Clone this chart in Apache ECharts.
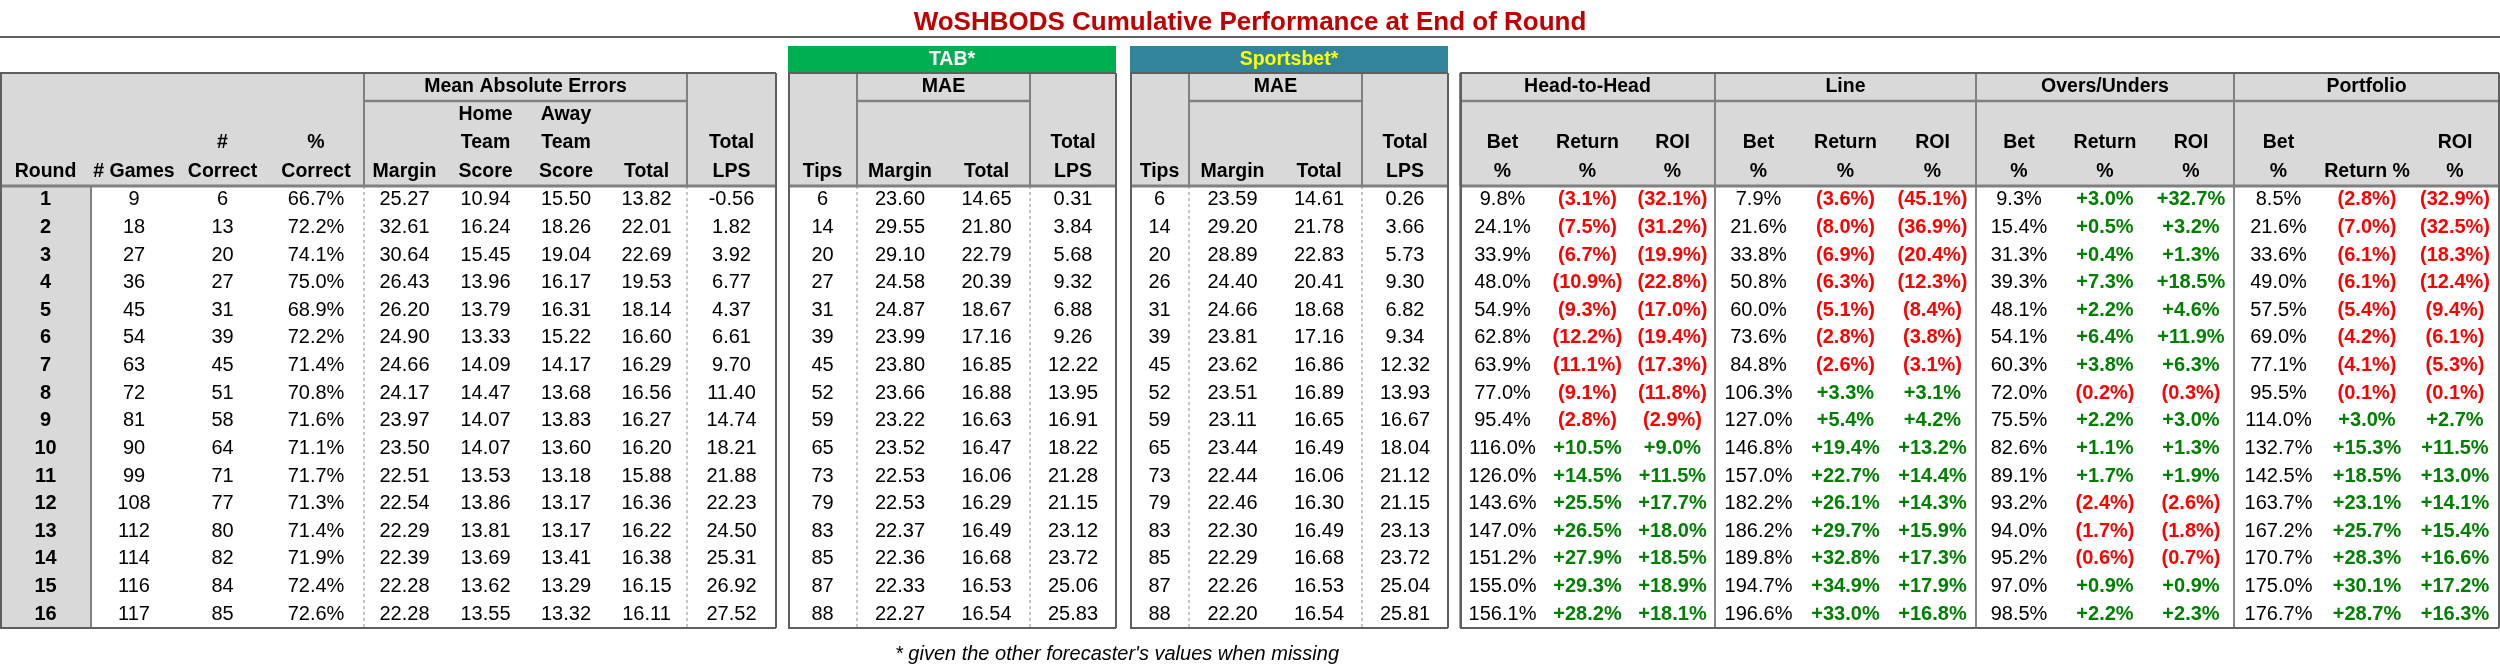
<!DOCTYPE html>
<html lang="en">
<head>
<meta charset="UTF-8">
<title>WoSHBODS Cumulative Performance</title>
<script src="https://cdn.jsdelivr.net/npm/echarts@6.0.0/dist/echarts.min.js"></script>
<style>
  html, body { margin: 0; padding: 0; background: #fff; }
</style>
</head>
<body>
<div id="main" style="width:2500px;height:664px;"></div>
<script>
const rounds     = [1, 2, 3, 4, 5, 6, 7, 8, 9, 10, 11, 12, 13, 14, 15, 16];
const games      = [9, 18, 27, 36, 45, 54, 63, 72, 81, 90, 99, 108, 112, 114, 116, 117];
const correct    = [6, 13, 20, 27, 31, 39, 45, 51, 58, 64, 71, 77, 80, 82, 84, 85];
const pctCorrect = [66.7, 72.2, 74.1, 75.0, 68.9, 72.2, 71.4, 70.8, 71.6, 71.1, 71.7, 71.3, 71.4, 71.9, 72.4, 72.6];
const maeMargin  = [25.27, 32.61, 30.64, 26.43, 26.20, 24.90, 24.66, 24.17, 23.97, 23.50, 22.51, 22.54, 22.29, 22.39, 22.28, 22.28];
const maeHome    = [10.94, 16.24, 15.45, 13.96, 13.79, 13.33, 14.09, 14.47, 14.07, 14.07, 13.53, 13.86, 13.81, 13.69, 13.62, 13.55];
const maeAway    = [15.50, 18.26, 19.04, 16.17, 16.31, 15.22, 14.17, 13.68, 13.83, 13.60, 13.18, 13.17, 13.17, 13.41, 13.29, 13.32];
const maeTotal   = [13.82, 22.01, 22.69, 19.53, 18.14, 16.60, 16.29, 16.56, 16.27, 16.20, 15.88, 16.36, 16.22, 16.38, 16.15, 16.11];
const totalLps   = [-0.56, 1.82, 3.92, 6.77, 4.37, 6.61, 9.70, 11.40, 14.74, 18.21, 21.88, 22.23, 24.50, 25.31, 26.92, 27.52];

const tabTips    = [6, 14, 20, 27, 31, 39, 45, 52, 59, 65, 73, 79, 83, 85, 87, 88];
const tabMargin  = [23.60, 29.55, 29.10, 24.58, 24.87, 23.99, 23.80, 23.66, 23.22, 23.52, 22.53, 22.53, 22.37, 22.36, 22.33, 22.27];
const tabTotal   = [14.65, 21.80, 22.79, 20.39, 18.67, 17.16, 16.85, 16.88, 16.63, 16.47, 16.06, 16.29, 16.49, 16.68, 16.53, 16.54];
const tabLps     = [0.31, 3.84, 5.68, 9.32, 6.88, 9.26, 12.22, 13.95, 16.91, 18.22, 21.28, 21.15, 23.12, 23.72, 25.06, 25.83];

const sbTips     = [6, 14, 20, 26, 31, 39, 45, 52, 59, 65, 73, 79, 83, 85, 87, 88];
const sbMargin   = [23.59, 29.20, 28.89, 24.40, 24.66, 23.81, 23.62, 23.51, 23.11, 23.44, 22.44, 22.46, 22.30, 22.29, 22.26, 22.20];
const sbTotal    = [14.61, 21.78, 22.83, 20.41, 18.68, 17.16, 16.86, 16.89, 16.65, 16.49, 16.06, 16.30, 16.49, 16.68, 16.53, 16.54];
const sbLps      = [0.26, 3.66, 5.73, 9.30, 6.82, 9.34, 12.32, 13.93, 16.67, 18.04, 21.12, 21.15, 23.13, 23.72, 25.04, 25.81];

const h2hBet     = [9.8, 24.1, 33.9, 48.0, 54.9, 62.8, 63.9, 77.0, 95.4, 116.0, 126.0, 143.6, 147.0, 151.2, 155.0, 156.1];
const h2hReturn  = [-3.1, -7.5, -6.7, -10.9, -9.3, -12.2, -11.1, -9.1, -2.8, 10.5, 14.5, 25.5, 26.5, 27.9, 29.3, 28.2];
const h2hRoi     = [-32.1, -31.2, -19.9, -22.8, -17.0, -19.4, -17.3, -11.8, -2.9, 9.0, 11.5, 17.7, 18.0, 18.5, 18.9, 18.1];
const lineBet    = [7.9, 21.6, 33.8, 50.8, 60.0, 73.6, 84.8, 106.3, 127.0, 146.8, 157.0, 182.2, 186.2, 189.8, 194.7, 196.6];
const lineReturn = [-3.6, -8.0, -6.9, -6.3, -5.1, -2.8, -2.6, 3.3, 5.4, 19.4, 22.7, 26.1, 29.7, 32.8, 34.9, 33.0];
const lineRoi    = [-45.1, -36.9, -20.4, -12.3, -8.4, -3.8, -3.1, 3.1, 4.2, 13.2, 14.4, 14.3, 15.9, 17.3, 17.9, 16.8];
const ouBet      = [9.3, 15.4, 31.3, 39.3, 48.1, 54.1, 60.3, 72.0, 75.5, 82.6, 89.1, 93.2, 94.0, 95.2, 97.0, 98.5];
const ouReturn   = [3.0, 0.5, 0.4, 7.3, 2.2, 6.4, 3.8, -0.2, 2.2, 1.1, 1.7, -2.4, -1.7, -0.6, 0.9, 2.2];
const ouRoi      = [32.7, 3.2, 1.3, 18.5, 4.6, 11.9, 6.3, -0.3, 3.0, 1.3, 1.9, -2.6, -1.8, -0.7, 0.9, 2.3];
const portBet    = [8.5, 21.6, 33.6, 49.0, 57.5, 69.0, 77.1, 95.5, 114.0, 132.7, 142.5, 163.7, 167.2, 170.7, 175.0, 176.7];
const portReturn = [-2.8, -7.0, -6.1, -6.1, -5.4, -4.2, -4.1, -0.1, 3.0, 15.3, 18.5, 23.1, 25.7, 28.3, 30.1, 28.7];
const portRoi    = [-32.9, -32.5, -18.3, -12.4, -9.4, -6.1, -5.3, -0.1, 2.7, 11.5, 13.0, 14.1, 15.4, 16.6, 17.2, 16.3];

// column headers (stacked lines, bottom aligned) and the series each column shows
const colHeads = [
  ['Round'], ['# Games'], ['#', 'Correct'], ['%', 'Correct'],
  ['Margin'], ['Home', 'Team', 'Score'], ['Away', 'Team', 'Score'], ['Total'], ['Total', 'LPS'],
  ['Tips'], ['Margin'], ['Total'], ['Total', 'LPS'],
  ['Tips'], ['Margin'], ['Total'], ['Total', 'LPS'],
  ['Bet', '%'], ['Return', '%'], ['ROI', '%'],
  ['Bet', '%'], ['Return', '%'], ['ROI', '%'],
  ['Bet', '%'], ['Return', '%'], ['ROI', '%'],
  ['Bet', '%'], ['Return %'], ['ROI', '%']
];
const colValues = [
  rounds, games, correct, pctCorrect,
  maeMargin, maeHome, maeAway, maeTotal, totalLps,
  tabTips, tabMargin, tabTotal, tabLps,
  sbTips, sbMargin, sbTotal, sbLps,
  h2hBet, h2hReturn, h2hRoi, lineBet, lineReturn, lineRoi,
  ouBet, ouReturn, ouRoi, portBet, portReturn, portRoi
];
const colFormats = [
  'round', 'int', 'int', 'pct',
  'dec', 'dec', 'dec', 'dec', 'dec',
  'int', 'dec', 'dec', 'dec',
  'int', 'dec', 'dec', 'dec',
  'pct', 'signed', 'signed', 'pct', 'signed', 'signed',
  'pct', 'signed', 'signed', 'pct', 'signed', 'signed'
];
const groupHeads = [
  { text: 'Mean Absolute Errors', from: 4, to: 7 },
  { text: 'MAE', from: 10, to: 11 },
  { text: 'MAE', from: 14, to: 15 },
  { text: 'Head-to-Head', from: 17, to: 19 },
  { text: 'Line', from: 20, to: 22 },
  { text: 'Overs/Unders', from: 23, to: 25 },
  { text: 'Portfolio', from: 26, to: 28 }
];
const bannerHeads = [
  { text: 'TAB*', from: 9, to: 12 },
  { text: 'Sportsbet*', from: 13, to: 16 }
];
const titleText = 'WoSHBODS Cumulative Performance at End of Round';
const noteText = "* given the other forecaster's values when missing";

// ---- layout (page pixels) ----
const colSpans = [
  [0, 91], [91, 177], [177, 268], [268, 364], [364, 445], [445, 526], [526, 606], [606, 687], [687, 776],
  [788, 857], [857, 943], [943, 1030], [1030, 1116],
  [1130, 1189], [1189, 1276], [1276, 1362], [1362, 1448],
  [1460, 1545], [1545, 1630], [1630, 1715],
  [1715, 1802], [1802, 1889], [1889, 1976],
  [1976, 2062], [2062, 2148], [2148, 2234],
  [2234, 2323], [2323, 2411], [2411, 2499]
];
const blocks = [[0, 8], [9, 12], [13, 16], [17, 28]];
const headY = [46, 73, 101, 129, 157, 186];
const bodyTop = 186, bodyBottom = 628;
const rowH = (bodyBottom - bodyTop) / rounds.length;

const SANS = "'Liberation Sans', Arial, sans-serif";
const HEAD_FONT = 'bold 19.5px ' + SANS;
const BODY_FONT = '20px ' + SANS;
const BODY_BOLD = 'bold 20px ' + SANS;
const GRAY = '#D9D9D9', BORDER = '#5f5f5f', RULE = '#808080';
const RED = '#FF0000', GREEN = '#008000';
const bannerStyle = [
  { fill: '#00B050', color: '#FFFFFF' },
  { fill: '#31849B', color: '#FFFF00' }
];

// ---- build marks ----
const rects = [], lines = [], texts = [];
const rect = (x0, y0, x1, y1, fill) => rects.push({ kind: 'rect', v: [x0, y0, x1, y1], fill });
const line = (x0, y0, x1, y1, color, width, dash) => lines.push({ kind: 'line', v: [x0, y0, x1, y1], color, width, dash });
const text = (x0, y0, x1, y1, str, font, color) => texts.push({ kind: 'text', v: [x0, y0, x1, y1], str, font, color });

function fmtCell(v, f) {
  if (f === 'round') return { s: String(v), font: BODY_BOLD, color: '#000' };
  if (f === 'int') return { s: String(v), font: BODY_FONT, color: '#000' };
  if (f === 'pct') return { s: v.toFixed(1) + '%', font: BODY_FONT, color: '#000' };
  if (f === 'dec') return { s: v.toFixed(2), font: BODY_FONT, color: '#000' };
  if (v < 0) return { s: '(' + Math.abs(v).toFixed(1) + '%)', font: BODY_BOLD, color: RED };
  return { s: '+' + v.toFixed(1) + '%', font: BODY_BOLD, color: GREEN };
}

// top rule under the title
line(0, 37, 2500, 37, BORDER, 2);

// header shading per block, round column shading
blocks.forEach(([a, b]) => rect(colSpans[a][0], headY[1], colSpans[b][1], bodyTop, GRAY));
rect(colSpans[0][0], bodyTop, colSpans[0][1], bodyBottom, GRAY);

bannerHeads.forEach((h, i) => {
  const x0 = colSpans[h.from][0], x1 = colSpans[h.to][1];
  rect(x0, headY[0], x1, headY[1], bannerStyle[i].fill);
  text(x0, headY[0], x1, headY[1], h.text, HEAD_FONT, bannerStyle[i].color);
});

groupHeads.forEach(g => {
  const x0 = colSpans[g.from][0], x1 = colSpans[g.to][1];
  text(x0, headY[1], x1, headY[2], g.text, HEAD_FONT, '#000');
  line(x0, headY[2], x1, headY[2], RULE, 2.5);
  const solidBody = g.from >= 17;
  [x0, x1].forEach(x => {
    line(x, headY[1], x, bodyTop, RULE, 2);
    if (solidBody) line(x, bodyTop, x, bodyBottom, RULE, 1.5);
    else line(x, bodyTop, x, bodyBottom, '#8c8c8c', 1, [3, 3]);
  });
});

// round column divider (body only)
line(colSpans[0][1], bodyTop, colSpans[0][1], bodyBottom, RULE, 2);

colHeads.forEach((hd, c) => {
  const [x0, x1] = colSpans[c];
  hd.forEach((s, k) => {
    const r = 5 - hd.length + k;
    text(x0, headY[r], x1, headY[r + 1], s, HEAD_FONT, '#000');
  });
  colValues[c].forEach((v, i) => {
    const cell = fmtCell(v, colFormats[c]);
    text(x0, bodyTop + i * rowH, x1, bodyTop + (i + 1) * rowH, cell.s, cell.font, cell.color);
  });
});

// block outlines and header/body separator
blocks.forEach(([a, b]) => {
  const x0 = colSpans[a][0], x1 = colSpans[b][1];
  line(x0, bodyTop, x1, bodyTop, RULE, 3);
  line(x0, headY[1], x1, headY[1], BORDER, 2);
  line(x0, bodyBottom, x1, bodyBottom, BORDER, 2);
  line(x0 + 1, headY[1], x0 + 1, bodyBottom, BORDER, 2);
  line(x1, headY[1], x1, bodyBottom, BORDER, 2);
});

const marks = rects.concat(lines, texts);

const chart = echarts.init(document.getElementById('main'), null, { renderer: 'canvas' });
chart.setOption({
  animation: false,
  backgroundColor: '#ffffff',
  title: [{
    text: titleText,
    left: 'center',
    top: 5,
    textStyle: { color: '#C00000', fontSize: 26, fontWeight: 'bold', fontFamily: SANS }
  }, {
    text: noteText,
    left: 1112,
    textAlign: 'center',
    top: 639,
    textStyle: { color: '#000', fontSize: 20, fontStyle: 'italic', fontWeight: 'normal', fontFamily: SANS }
  }],
  grid: { left: 0, right: 0, top: 0, bottom: 0 },
  xAxis: { type: 'value', min: 0, max: 2500, show: false },
  yAxis: { type: 'value', min: 0, max: 664, inverse: true, show: false },
  series: [{
    type: 'custom',
    silent: true,
    clip: false,
    data: marks.map(m => m.v),
    renderItem: function (params, api) {
      const m = marks[params.dataIndex];
      const p0 = api.coord([api.value(0), api.value(1)]);
      const p1 = api.coord([api.value(2), api.value(3)]);
      if (m.kind === 'rect') {
        return { type: 'rect', shape: { x: p0[0], y: p0[1], width: p1[0] - p0[0], height: p1[1] - p0[1] }, style: { fill: m.fill } };
      }
      if (m.kind === 'line') {
        return { type: 'line', shape: { x1: p0[0], y1: p0[1], x2: p1[0], y2: p1[1] },
          style: { stroke: m.color, lineWidth: m.width, lineDash: m.dash || null } };
      }
      return { type: 'text', style: {
        x: (p0[0] + p1[0]) / 2, y: (p0[1] + p1[1]) / 2, text: m.str, font: m.font, fill: m.color,
        textAlign: 'center', textVerticalAlign: 'middle', align: 'center', verticalAlign: 'middle'
      } };
    }
  }]
});
</script>
</body>
</html>
